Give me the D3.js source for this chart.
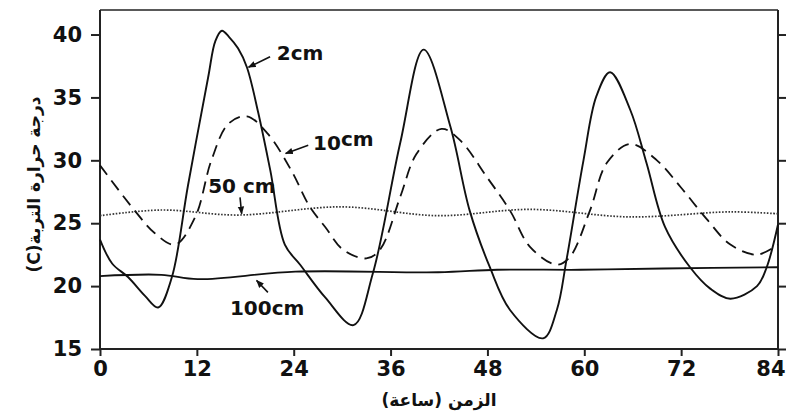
<!DOCTYPE html>
<html>
<head>
<meta charset="utf-8">
<script src="https://cdn.jsdelivr.net/npm/d3@7"></script>
<style>
  body { margin: 0; background: #fff; }
  text { font-family: "DejaVu Sans", "Liberation Sans", sans-serif; font-weight: bold; fill: #111; }
</style>
</head>
<body>
<svg id="chart" width="786" height="416"></svg>
<script>
// soil temperature at several depths
const hours2 = [0, 1.5, 3.5, 5.6, 7.2, 8.9, 10.9, 13.4, 14.3, 15.1, 16.0, 17.1, 18.2, 19.6, 21.1, 22.9, 24.8, 27.9, 31.4, 33.8, 37.2, 40.1, 43.4, 45.8, 48.3, 50.8, 54.9, 56.6, 57.8, 59.9, 61.5, 63.2, 65.7, 67.7, 70.0, 73.1, 75.6, 78.1, 81.4, 82.6, 84];
const temp2  = [23.7, 21.8, 20.7, 19.2, 18.3, 20.7, 28.0, 36.6, 39.5, 40.3, 39.8, 38.9, 37.4, 33.8, 29.2, 23.3, 21.7, 19.1, 16.9, 21.0, 31.4, 38.8, 32.7, 26.0, 21.5, 18.1, 15.85, 18.1, 22.1, 30.0, 35.1, 37.0, 34.0, 29.8, 24.7, 21.5, 19.8, 19.0, 20.0, 21.5, 24.9];

const hours10 = [0, 4.3, 6.8, 9.3, 11.8, 13.8, 15.9, 18.2, 20.8, 23.7, 26.0, 27.9, 30.1, 33.0, 34.7, 37.2, 39.2, 42.3, 44.6, 47.9, 50.8, 53.3, 56.6, 58.2, 60.7, 62.8, 65.7, 69.0, 71.9, 75.2, 78.1, 81.4, 84];
const temp10  = [29.6, 26.0, 24.2, 23.3, 25.5, 30.0, 32.9, 33.5, 32.1, 29.2, 26.3, 24.7, 22.9, 22.2, 22.9, 27.1, 30.5, 32.5, 31.6, 28.7, 26.0, 23.1, 21.7, 22.3, 26.0, 29.8, 31.3, 30.0, 27.9, 25.3, 23.3, 22.5, 23.3];

const hours50 = [0, 7.6, 17.1, 29.9, 41.9, 53.3, 65.7, 78.1, 84];
const temp50  = [25.6, 26.05, 25.65, 26.3, 25.6, 26.1, 25.5, 25.9, 25.75];

const hours100 = [0, 7.6, 12.1, 24.2, 41.9, 49.2, 59.5, 69.8, 84];
const temp100  = [20.8, 20.9, 20.55, 21.15, 21.1, 21.3, 21.3, 21.4, 21.5];

const xTicks = [0, 12, 24, 36, 48, 60, 72, 84];
const yTicks = [15, 20, 25, 30, 35, 40];

const xTitle = "الزمن (ساعة)";
const yTitle = "(C)درجة حرارة التربة";

const svg = d3.select("#chart");
const m = { left: 100, right: 778, top: 10, bottom: 349 };

const x = d3.scaleLinear().domain([0, 84]).range([m.left, m.right]);
const y = d3.scaleLinear().domain([15, 41.95]).range([m.bottom, m.top]);

svg.append("defs").append("marker")
  .attr("id", "arr")
  .attr("viewBox", "0 0 10 10")
  .attr("refX", 9).attr("refY", 5)
  .attr("markerWidth", 5).attr("markerHeight", 5)
  .attr("orient", "auto")
  .append("path").attr("d", "M0,1 L10,5 L0,9 Z").attr("fill", "#111");

// frame
svg.append("line").attr("x1", m.left).attr("x2", m.right).attr("y1", m.top).attr("y2", m.top)
  .attr("stroke", "#222").attr("stroke-width", 1.5);

const gx = svg.append("g").attr("transform", `translate(0,${m.bottom})`)
  .call(d3.axisBottom(x).tickValues(xTicks).tickSize(7).tickPadding(5));
const gy = svg.append("g").attr("transform", `translate(${m.left},0)`)
  .call(d3.axisLeft(y).tickValues(yTicks).tickSize(9).tickPadding(9));
const gr = svg.append("g").attr("transform", `translate(${m.right},0)`)
  .call(d3.axisRight(y).tickValues(yTicks).tickSize(9).tickFormat(""));

[gx, gy, gr].forEach(g => {
  g.select(".domain").attr("stroke", "#222").attr("stroke-width", 2);
  g.selectAll(".tick line").attr("stroke", "#222").attr("stroke-width", 2);
  g.selectAll(".tick text").attr("fill", "#111")
    .style("font-family", '"DejaVu Sans", sans-serif')
    .style("font-weight", "bold").style("font-size", "21px");
});
// last hour label sits flush against the right edge
gx.selectAll(".tick text").filter(d => d === 84).attr("text-anchor", "end").attr("x", 7);
gr.select(".domain").attr("d", `M0,${m.bottom}V${m.top}`);
gy.select(".domain").attr("d", `M0,${m.top}V${m.bottom}`);
gx.select(".domain").attr("d", `M${m.left},0H${m.right}`);

const line = d3.line().x(d => x(d[0])).y(d => y(d[1])).curve(d3.curveCatmullRom.alpha(0.5));
const zip = (hs, ts) => hs.map((h, i) => [h, ts[i]]);

const plot = svg.append("g");
plot.append("path").datum(zip(hours100, temp100)).attr("d", line)
  .attr("fill", "none").attr("stroke", "#111").attr("stroke-width", 1.8);
plot.append("path").datum(zip(hours50, temp50)).attr("d", line)
  .attr("fill", "none").attr("stroke", "#333").attr("stroke-width", 1.7).attr("stroke-dasharray", "1.6,1.6");
plot.append("path").datum(zip(hours10, temp10)).attr("d", line)
  .attr("fill", "none").attr("stroke", "#111").attr("stroke-width", 1.8).attr("stroke-dasharray", "12,7");
plot.append("path").datum(zip(hours2, temp2)).attr("d", line)
  .attr("fill", "none").attr("stroke", "#111").attr("stroke-width", 1.9);

// labels with leader lines (positions in data units)
const notes = [
  { text: "2cm", tx: 21.9, ty: 37.97, from: [21.07, 38.24], to: [18.4, 37.4] },
  { text: "10", sup: "cm", tx: 26.4, ty: 30.8, from: [25.8, 31.2], to: [23.0, 30.55] },
  { text: "50 cm", tx: 13.4, ty: 27.4, from: [17.35, 27.05], to: [17.55, 25.75] },
  { text: "100cm", tx: 16.1, ty: 17.7, from: [20.8, 19.5], to: [19.4, 20.45] }
];
notes.forEach(n => {
  svg.append("line")
    .attr("x1", x(n.from[0])).attr("y1", y(n.from[1]))
    .attr("x2", x(n.to[0])).attr("y2", y(n.to[1]))
    .attr("stroke", "#111").attr("stroke-width", 1.6)
    .attr("marker-end", "url(#arr)");
  const t = svg.append("text").attr("x", x(n.tx)).attr("y", y(n.ty))
    .style("font-size", "20px").text(n.text);
  if (n.sup) t.append("tspan").attr("dy", -4).text(n.sup);
});

svg.append("text")
  .attr("x", (m.left + m.right) / 2).attr("y", 406)
  .attr("text-anchor", "middle").attr("direction", "rtl")
  .style("font-size", "17px").text(xTitle);

svg.append("text")
  .attr("transform", `translate(40,${(m.top + m.bottom) / 2 + 5}) rotate(-90)`)
  .attr("text-anchor", "middle")
  .style("font-size", "17px").text(yTitle);
</script>
</body>
</html>
